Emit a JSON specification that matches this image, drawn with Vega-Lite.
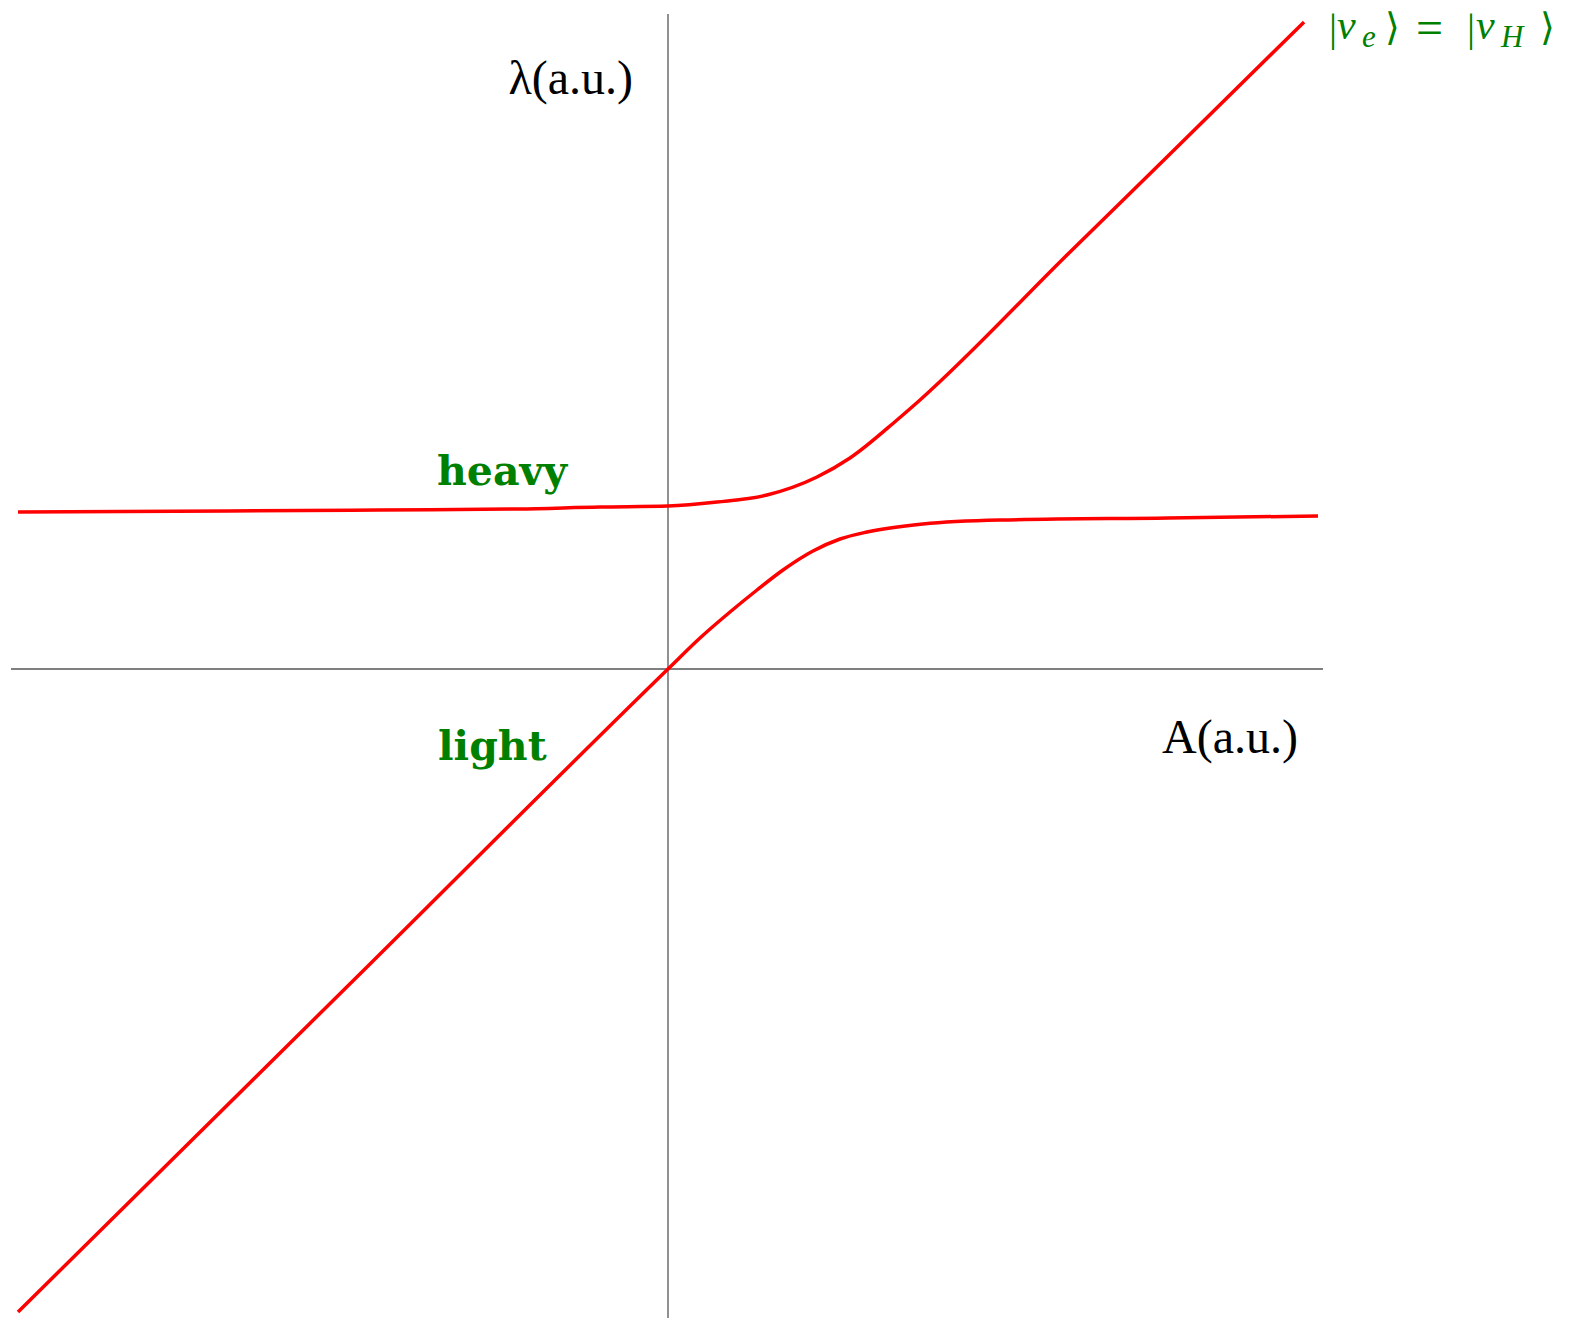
{
  "$schema": "https://vega.github.io/schema/vega-lite/v6.json",
  "width": 1571,
  "height": 1322,
  "padding": 0,
  "autosize": {"type": "none"},
  "background": "white",
  "config": {"view": {"stroke": null}},
  "datasets": {
    "curves": [
      {"branch": "heavy", "A": -650, "lambda": 157},
      {"branch": "heavy", "A": -440, "lambda": 158},
      {"branch": "heavy", "A": -290, "lambda": 159},
      {"branch": "heavy", "A": -150, "lambda": 160},
      {"branch": "heavy", "A": -68, "lambda": 162},
      {"branch": "heavy", "A": 0, "lambda": 163},
      {"branch": "heavy", "A": 49, "lambda": 167},
      {"branch": "heavy", "A": 99, "lambda": 174},
      {"branch": "heavy", "A": 149, "lambda": 192},
      {"branch": "heavy", "A": 182, "lambda": 211},
      {"branch": "heavy", "A": 229, "lambda": 249},
      {"branch": "heavy", "A": 252, "lambda": 269},
      {"branch": "heavy", "A": 400, "lambda": 415},
      {"branch": "heavy", "A": 500, "lambda": 513},
      {"branch": "heavy", "A": 636, "lambda": 647},
      {"branch": "light", "A": -650, "lambda": -643},
      {"branch": "light", "A": -300, "lambda": -297},
      {"branch": "light", "A": 0, "lambda": 0},
      {"branch": "light", "A": 32, "lambda": 31},
      {"branch": "light", "A": 62, "lambda": 57},
      {"branch": "light", "A": 89, "lambda": 79},
      {"branch": "light", "A": 115, "lambda": 99},
      {"branch": "light", "A": 145, "lambda": 118},
      {"branch": "light", "A": 172, "lambda": 130},
      {"branch": "light", "A": 199, "lambda": 137},
      {"branch": "light", "A": 255, "lambda": 145},
      {"branch": "light", "A": 332, "lambda": 149},
      {"branch": "light", "A": 500, "lambda": 151},
      {"branch": "light", "A": 650, "lambda": 153}
    ],
    "axes": [
      {"A": 0, "lambda": 655, "A2": 0, "lambda2": -649},
      {"A": -657, "lambda": 0, "A2": 655, "lambda2": 0}
    ],
    "axisTitles": [
      {"label": "λ(a.u.)", "A": -35, "lambda": 575},
      {"label": "A(a.u.)", "A": 630, "lambda": -84}
    ],
    "stateLabels": [
      {"label": "heavy", "A": -231, "lambda": 184},
      {"label": "light", "A": -230, "lambda": -91}
    ],
    "mathBars": [
      {"label": "|", "A": 661, "lambda": 628},
      {"label": "|", "A": 799, "lambda": 628}
    ],
    "mathEquals": [
      {"label": "=", "A": 748, "lambda": 625}
    ],
    "mathBrackets": [
      {"label": "⟩", "A": 717, "lambda": 629},
      {"label": "⟩", "A": 872, "lambda": 629}
    ],
    "mathItalic": [
      {"label": "ν", "A": 669, "lambda": 630},
      {"label": "ν", "A": 808, "lambda": 630}
    ],
    "mathSub": [
      {"label": "e", "A": 694, "lambda": 622},
      {"label": "H", "A": 833, "lambda": 622}
    ]
  },
  "encoding": {
    "x": {"field": "A", "type": "quantitative", "scale": {"domain": [-668, 903], "nice": false, "zero": false}, "axis": null},
    "y": {"field": "lambda", "type": "quantitative", "scale": {"domain": [-653, 669], "nice": false, "zero": false}, "axis": null}
  },
  "layer": [
    {
      "data": {"name": "axes"},
      "mark": {"type": "rule", "color": "#555555", "strokeWidth": 1.3},
      "encoding": {
        "x2": {"field": "A2"},
        "y2": {"field": "lambda2"}
      }
    },
    {
      "data": {"name": "curves"},
      "mark": {"type": "line", "color": "#ff0000", "strokeWidth": 3.5, "interpolate": "monotone"},
      "encoding": {
        "detail": {"field": "branch"}
      }
    },
    {
      "data": {"name": "axisTitles"},
      "mark": {"type": "text", "font": "Liberation Serif", "fontSize": 48, "align": "right", "baseline": "alphabetic", "color": "black"},
      "encoding": {"text": {"field": "label"}}
    },
    {
      "data": {"name": "stateLabels"},
      "mark": {"type": "text", "font": "DejaVu Serif", "fontWeight": "bold", "fontSize": 41, "align": "left", "baseline": "alphabetic", "color": "#008000"},
      "encoding": {"text": {"field": "label"}}
    },
    {
      "data": {"name": "mathBars"},
      "mark": {"type": "text", "font": "Liberation Serif", "fontSize": 40, "align": "left", "baseline": "alphabetic", "color": "#008000"},
      "encoding": {"text": {"field": "label"}}
    },
    {
      "data": {"name": "mathEquals"},
      "mark": {"type": "text", "font": "Liberation Serif", "fontSize": 48, "align": "left", "baseline": "alphabetic", "color": "#008000"},
      "encoding": {"text": {"field": "label"}}
    },
    {
      "data": {"name": "mathBrackets"},
      "mark": {"type": "text", "font": "DejaVu Sans", "fontSize": 38, "align": "left", "baseline": "alphabetic", "color": "#008000"},
      "encoding": {"text": {"field": "label"}}
    },
    {
      "data": {"name": "mathItalic"},
      "mark": {"type": "text", "font": "Liberation Serif", "fontStyle": "italic", "fontSize": 42, "align": "left", "baseline": "alphabetic", "color": "#008000"},
      "encoding": {"text": {"field": "label"}}
    },
    {
      "data": {"name": "mathSub"},
      "mark": {"type": "text", "font": "Liberation Serif", "fontStyle": "italic", "fontSize": 31, "align": "left", "baseline": "alphabetic", "color": "#008000"},
      "encoding": {"text": {"field": "label"}}
    }
  ]
}
